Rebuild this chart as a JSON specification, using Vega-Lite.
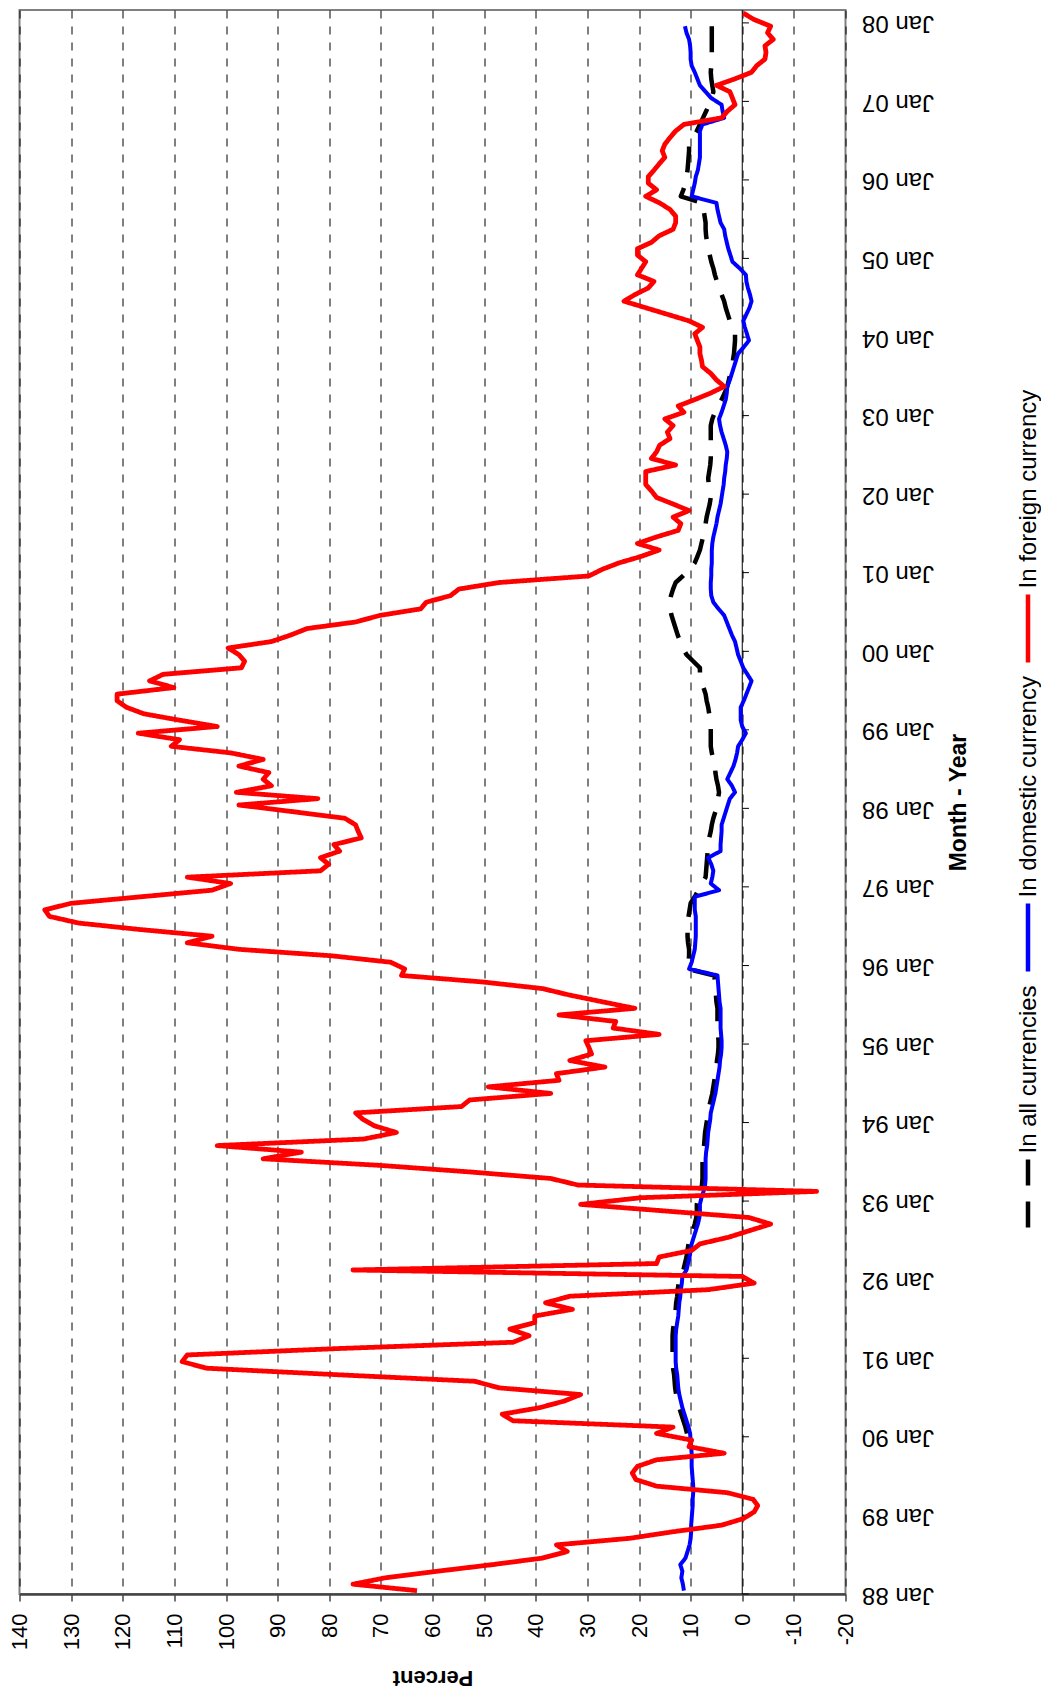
{
"$schema": "https://vega.github.io/schema/vega-lite/v6.json",
"autosize": {"type": "none"},
"padding": {"left": 19.5, "top": 10, "right": 195.5, "bottom": 103},
"width": 826,
"height": 1584,
"background": "white",
"config": {"view": {"stroke": "#808080", "strokeWidth": 2}},
"data": {"values": [
{"m":"1988-01","f":63.0,"d":11.3},{"m":"1988-02","f":75.4,"d":11.5},{"m":"1988-03","f":69.1,"d":11.8},{"m":"1988-04","f":59,"d":11.6},{"m":"1988-05","f":48.4,"d":12.0},{"m":"1988-06","f":38.7,"d":11.0},{"m":"1988-07","f":33.9,"d":10.6},{"m":"1988-08","f":36.0,"d":10.2},{"m":"1988-09","f":21.8,"d":10.0},{"m":"1988-10","f":13.4,"d":9.9},{"m":"1988-11","f":4.0,"d":9.9},{"m":"1988-12","f":-0.2,"d":9.8},
{"m":"1989-01","f":-2.3,"d":9.7},{"m":"1989-02","f":-3.0,"d":9.6},{"m":"1989-03","f":-2.1,"d":9.6},{"m":"1989-04","f":2.9,"d":9.5},{"m":"1989-05","f":16.6,"d":9.5},{"m":"1989-06","f":20.6,"d":9.6},{"m":"1989-07","f":21.3,"d":9.7},{"m":"1989-08","f":20.3,"d":9.8},{"m":"1989-09","f":16.6,"d":9.8},{"m":"1989-10","f":3.5,"d":9.8},{"m":"1989-11","f":10.3,"d":9.9},{"m":"1989-12","f":9.8,"d":10.0},
{"m":"1990-01","f":16.6,"d":10.1,"a":10.7},{"m":"1990-02","f":13.4,"d":10.4,"a":11.0},{"m":"1990-03","f":44.4,"d":10.8,"a":11.4},{"m":"1990-04","f":46.5,"d":11.2,"a":11.8},{"m":"1990-05","f":39.2,"d":11.6,"a":12.2},{"m":"1990-06","f":34.5,"d":11.9,"a":12.5},{"m":"1990-07","f":31.3,"d":12.2,"a":12.8},{"m":"1990-08","f":47.1,"d":12.4,"a":13.0},{"m":"1990-09","f":51.8,"d":12.5,"a":13.1},{"m":"1990-10","f":78.4,"d":12.6,"a":13.2},{"m":"1990-11","f":103.8,"d":12.8,"a":13.4},{"m":"1990-12","f":108.5,"d":12.9,"a":13.5},
{"m":"1991-01","f":107.5,"d":12.9,"a":13.5},{"m":"1991-02","f":78.6,"d":12.9,"a":13.5},{"m":"1991-03","f":44.4,"d":12.9,"a":13.5},{"m":"1991-04","f":41.3,"d":12.9,"a":13.5},{"m":"1991-05","f":45.0,"d":12.8,"a":13.4},{"m":"1991-06","f":40.2,"d":12.6,"a":13.2},{"m":"1991-07","f":40.2,"d":12.4,"a":13.0},{"m":"1991-08","f":32.9,"d":12.3,"a":12.9},{"m":"1991-09","f":38.1,"d":12.2,"a":12.8},{"m":"1991-10","f":33.4,"d":12.0,"a":12.6},{"m":"1991-11","f":6.6,"d":11.9,"a":12.5},{"m":"1991-12","f":-2.3,"d":11.7,"a":12.3},
{"m":"1992-01","f":0,"d":11.6,"a":12.2},{"m":"1992-02","f":75.4,"d":10.8,"a":11.4},{"m":"1992-03","f":16.6,"d":10.5,"a":11.1},{"m":"1992-04","f":16.1,"d":10.2,"a":10.8},{"m":"1992-05","f":9.8,"d":10.0,"a":10.6},{"m":"1992-06","f":8.2,"d":9.8,"a":10.4},{"m":"1992-07","f":2.7,"d":9.4,"a":10.0},{"m":"1992-08","f":-1.4,"d":9.0,"a":9.6},{"m":"1992-09","f":-5.5,"d":8.6,"a":9.2},{"m":"1992-10","f":-1.3,"d":8.3,"a":8.9},{"m":"1992-11","f":15.0,"d":8.2,"a":8.8},{"m":"1992-12","f":31.3,"d":8.2,"a":8.8},
{"m":"1993-01","f":19.7,"d":7.9,"a":8.5},{"m":"1993-02","f":-14.4,"d":7.5,"a":8.1},{"m":"1993-03","f":31.8,"d":7.2,"a":7.8},{"m":"1993-04","f":37.1,"d":7.1,"a":7.7},{"m":"1993-05","f":52.8,"d":7.1,"a":7.7},{"m":"1993-06","f":70.2,"d":7.1,"a":7.7},{"m":"1993-07","f":92.8,"d":7.1,"a":7.7},{"m":"1993-08","f":85.4,"d":7.0,"a":7.6},{"m":"1993-09","f":101.7,"d":6.8,"a":7.4},{"m":"1993-10","f":73.3,"d":6.7,"a":7.3},{"m":"1993-11","f":67.0,"d":6.6,"a":7.2},{"m":"1993-12","f":71.2,"d":6.4,"a":7.0},
{"m":"1994-01","f":73.5,"d":6.2,"a":6.8},{"m":"1994-02","f":74.9,"d":6.1,"a":6.7},{"m":"1994-03","f":54.4,"d":5.8,"a":6.4},{"m":"1994-04","f":52.8,"d":5.5,"a":6.1},{"m":"1994-05","f":37.1,"d":5.2,"a":5.8},{"m":"1994-06","f":49.2,"d":5.0,"a":5.6},{"m":"1994-07","f":35.5,"d":4.8,"a":5.4},{"m":"1994-08","f":36.0,"d":4.6,"a":5.2},{"m":"1994-09","f":26.6,"d":4.4,"a":5.0},{"m":"1994-10","f":33.4,"d":4.3,"a":4.9},{"m":"1994-11","f":29.2,"d":4.1,"a":4.7},{"m":"1994-12","f":29.7,"d":4.0,"a":4.6},
{"m":"1995-01","f":30.3,"d":4.0,"a":4.6},{"m":"1995-02","f":16.1,"d":4.1,"a":4.7},{"m":"1995-03","f":25.0,"d":4.2,"a":4.8},{"m":"1995-04","f":24.5,"d":4.2,"a":4.8},{"m":"1995-05","f":35.5,"d":4.2,"a":4.8},{"m":"1995-06","f":20.8,"d":4.2,"a":4.8},{"m":"1995-07","f":27.1,"d":4.4,"a":5.0},{"m":"1995-08","f":33.4,"d":4.5,"a":5.1},{"m":"1995-09","f":38.7,"d":4.6,"a":5.2},{"m":"1995-10","f":50.2,"d":4.7,"a":5.3},{"m":"1995-11","f":66.0,"d":4.8,"a":5.4},{"m":"1995-12","f":65.4,"d":10.3,"a":10.6},
{"m":"1996-01","f":68.1,"d":9.8,"a":10.4},{"m":"1996-02","f":79.6,"d":9.5,"a":10.3},{"m":"1996-03","f":97.5,"d":9.2,"a":10.3},{"m":"1996-04","f":107.5,"d":9.1,"a":10.5},{"m":"1996-05","f":102.7,"d":9.0,"a":10.6},{"m":"1996-06","f":116.4,"d":9.0,"a":10.6},{"m":"1996-07","f":128.5,"d":9.0,"a":10.6},{"m":"1996-08","f":134.2,"d":9.0,"a":10.4},{"m":"1996-09","f":135.1,"d":9.2,"a":10.2},{"m":"1996-10","f":130.0,"d":9.2,"a":10.0},{"m":"1996-11","f":116.4,"d":9.2,"a":9.2},{"m":"1996-12","f":102.7,"d":4.5,"a":8.5},
{"m":"1997-01","f":99.1,"d":6.1,"a":7.8},{"m":"1997-02","f":107.5,"d":5.8,"a":7.1},{"m":"1997-03","f":81.7,"d":5.6,"a":7.0},{"m":"1997-04","f":80.1,"d":6.0,"a":6.9},{"m":"1997-05","f":81.7,"d":6.6,"a":6.8},{"m":"1997-06","f":78.0,"d":4.2,"a":6.7},{"m":"1997-07","f":79.1,"d":4.2,"a":6.6},{"m":"1997-08","f":73.8,"d":4.1,"a":6.4},{"m":"1997-09","f":74.4,"d":4.0,"a":6.1},{"m":"1997-10","f":74.9,"d":4.0,"a":5.9},{"m":"1997-11","f":77.0,"d":3.6,"a":5.6},{"m":"1997-12","f":87.0,"d":3.2,"a":5.2},
{"m":"1998-01","f":97.5,"d":2.8,"a":4.9},{"m":"1998-02","f":82.2,"d":2.4,"a":4.7},{"m":"1998-03","f":98.0,"d":1.4,"a":4.5},{"m":"1998-04","f":91.2,"d":2.0,"a":4.7},{"m":"1998-05","f":92.8,"d":2.9,"a":5.0},{"m":"1998-06","f":91.7,"d":2.3,"a":5.2},{"m":"1998-07","f":97.5,"d":1.7,"a":5.3},{"m":"1998-08","f":92.8,"d":1.3,"a":5.6},{"m":"1998-09","f":99.1,"d":1.0,"a":5.9},{"m":"1998-10","f":110.6,"d":0.8,"a":6.1},{"m":"1998-11","f":109.0,"d":0.0,"a":6.1},{"m":"1998-12","f":117.0,"d":-0.7,"a":6.1},
{"m":"1999-01","f":101.7,"d":0.0,"a":6.1},{"m":"1999-02","f":109.0,"d":0.3,"a":6.1},{"m":"1999-03","f":115.9,"d":0.3,"a":6.4},{"m":"1999-04","f":119.3,"d":0.3,"a":6.6},{"m":"1999-05","f":121.1,"d":-0.3,"a":6.9},{"m":"1999-06","f":121.1,"d":-0.8,"a":7.1},{"m":"1999-07","f":110.1,"d":-1.3,"a":7.5},{"m":"1999-08","f":114.8,"d":-1.8,"a":7.9},{"m":"1999-09","f":112.2,"d":-1.0,"a":8.2},{"m":"1999-10","f":97.0,"d":-0.2,"a":8.2},{"m":"1999-11","f":96.4,"d":0.3,"a":9.5},{"m":"1999-12","f":97.5,"d":0.8,"a":10.8},
{"m":"2000-01","f":99.6,"d":1.1,"a":11.5},{"m":"2000-02","f":91.2,"d":1.4,"a":12.0},{"m":"2000-03","f":87.5,"d":2.0,"a":12.5},{"m":"2000-04","f":84.3,"d":2.5,"a":12.9},{"m":"2000-05","f":74.9,"d":3.0,"a":13.3},{"m":"2000-06","f":70.2,"d":3.5,"a":13.7},{"m":"2000-07","f":62.3,"d":4.6,"a":14.0},{"m":"2000-08","f":61.2,"d":5.6,"a":14.0},{"m":"2000-09","f":56.5,"d":6.0,"a":13.8},{"m":"2000-10","f":54.9,"d":6.1,"a":13.4},{"m":"2000-11","f":47.1,"d":6.1,"a":12.9},{"m":"2000-12","f":29.7,"d":6.0,"a":11.5},
{"m":"2001-01","f":27.1,"d":6.0,"a":10.2},{"m":"2001-02","f":23.9,"d":5.9,"a":9.2},{"m":"2001-03","f":19.7,"d":5.9,"a":8.7},{"m":"2001-04","f":16.1,"d":5.9,"a":8.2},{"m":"2001-05","f":20.3,"d":5.8,"a":7.9},{"m":"2001-06","f":16.6,"d":5.6,"a":7.6},{"m":"2001-07","f":12.4,"d":5.3,"a":7.4},{"m":"2001-08","f":11.9,"d":5.0,"a":7.1},{"m":"2001-09","f":13.4,"d":4.8,"a":6.9},{"m":"2001-10","f":10.3,"d":4.5,"a":6.6},{"m":"2001-11","f":13.4,"d":4.2,"a":6.3},{"m":"2001-12","f":16.6,"d":4.0,"a":6.1},
{"m":"2002-01","f":17.6,"d":3.8,"a":6.3},{"m":"2002-02","f":18.7,"d":3.6,"a":6.5},{"m":"2002-03","f":18.7,"d":3.5,"a":6.6},{"m":"2002-04","f":18.7,"d":3.3,"a":6.4},{"m":"2002-05","f":12.9,"d":3.2,"a":6.2},{"m":"2002-06","f":17.6,"d":3.0,"a":6.1},{"m":"2002-07","f":16.6,"d":2.9,"a":6.1},{"m":"2002-08","f":16.0,"d":3.2,"a":6.1},{"m":"2002-09","f":14.0,"d":3.6,"a":6.1},{"m":"2002-10","f":14.5,"d":4.0,"a":6.1},{"m":"2002-11","f":13.4,"d":4.3,"a":6.1},{"m":"2002-12","f":15.0,"d":4.5,"a":5.8},
{"m":"2003-01","f":11.3,"d":4.0,"a":5.3},{"m":"2003-02","f":12.4,"d":3.6,"a":4.7},{"m":"2003-03","f":9.2,"d":3.2,"a":4.0},{"m":"2003-04","f":6.1,"d":3.0,"a":3.4},{"m":"2003-05","f":3.5,"d":2.9,"a":2.9},{"m":"2003-06","f":5.0,"d":2.4,"a":2.6},{"m":"2003-07","f":6.1,"d":2.0,"a":2.3},{"m":"2003-08","f":7.7,"d":1.6,"a":2.0},{"m":"2003-09","f":7.9,"d":1.2,"a":1.8},{"m":"2003-10","f":8.2,"d":0.8,"a":1.6},{"m":"2003-11","f":8.2,"d":-0.3,"a":1.5},{"m":"2003-12","f":8.7,"d":-1.3,"a":1.4},
{"m":"2004-01","f":9.2,"d":-0.9,"a":1.4},{"m":"2004-02","f":7.7,"d":-0.5,"a":1.9},{"m":"2004-03","f":10.3,"d":-0.2,"a":2.4},{"m":"2004-04","f":14.5,"d":-0.8,"a":2.8},{"m":"2004-05","f":18.7,"d":-1.4,"a":3.2},{"m":"2004-06","f":22.9,"d":-1.8,"a":3.5},{"m":"2004-07","f":20.8,"d":-1.5,"a":4.0},{"m":"2004-08","f":18.2,"d":-1.1,"a":4.5},{"m":"2004-09","f":17.1,"d":-0.8,"a":4.9},{"m":"2004-10","f":20.3,"d":-0.7,"a":5.3},{"m":"2004-11","f":19.5,"d":0.5,"a":5.6},{"m":"2004-12","f":18.7,"d":1.9,"a":6.0},
{"m":"2005-01","f":20.3,"d":2.3,"a":6.3},{"m":"2005-02","f":20.3,"d":2.7,"a":6.6},{"m":"2005-03","f":17.6,"d":3.0,"a":6.8},{"m":"2005-04","f":16.1,"d":3.3,"a":7.0},{"m":"2005-05","f":13.4,"d":3.5,"a":7.1},{"m":"2005-06","f":12.9,"d":4.2,"a":7.1},{"m":"2005-07","f":12.9,"d":4.5,"a":7.3},{"m":"2005-08","f":14.0,"d":4.8,"a":7.5},{"m":"2005-09","f":16.0,"d":5.0,"a":7.7},{"m":"2005-10","f":18.7,"d":9.8,"a":11.9},{"m":"2005-11","f":16.6,"d":9.5,"a":11.4},{"m":"2005-12","f":18.2,"d":9.2,"a":11.0},
{"m":"2006-01","f":18.2,"d":9.0,"a":10.8},{"m":"2006-02","f":17.1,"d":8.6,"a":10.6},{"m":"2006-03","f":16.1,"d":8.4,"a":10.5},{"m":"2006-04","f":15.0,"d":8.2,"a":10.4},{"m":"2006-05","f":15.5,"d":8.2,"a":10.3},{"m":"2006-06","f":15.0,"d":8.2,"a":10.3},{"m":"2006-07","f":14.0,"d":8.2,"a":9.5},{"m":"2006-08","f":12.9,"d":8.2,"a":8.8},{"m":"2006-09","f":11.3,"d":7.7,"a":8.2},{"m":"2006-10","f":4.0,"d":3.5,"a":7.6},{"m":"2006-11","f":2.9,"d":3.8,"a":7.0},{"m":"2006-12","f":1.4,"d":4.0,"a":6.4},
{"m":"2007-01","f":1.9,"d":6.0,"a":5.9},{"m":"2007-02","f":2.4,"d":7.1,"a":5.6},{"m":"2007-03","f":5.0,"d":8.2,"a":5.8},{"m":"2007-04","f":1.4,"d":8.7,"a":6.0},{"m":"2007-05","f":-1.8,"d":9.2,"a":6.1},{"m":"2007-06","f":-2.8,"d":9.8,"a":6.0},{"m":"2007-07","f":-4.4,"d":10.0,"a":5.9},{"m":"2007-08","f":-4.6,"d":10.0,"a":5.9},{"m":"2007-09","f":-4.4,"d":10.1,"a":5.9},{"m":"2007-10","f":-6.0,"d":10.3,"a":5.9},{"m":"2007-11","f":-4.9,"d":10.8,"a":5.9},{"m":"2007-12","f":-5.5,"d":11.1,"a":5.9},
{"m":"2008-01","f":-2.3},{"m":"2008-02","f":-0.2}
]},
"transform": [
  {"fold": ["a", "d", "f"], "as": ["s", "v"]},
  {"filter": "isValid(datum.v)"}
],
"layer": [
  {
    "data": {"values": [{}]},
    "mark": {"type": "rule", "color": "#000000", "strokeWidth": 1},
    "encoding": {"x": {"datum": 0, "type": "quantitative"}}
  },
  {
    "transform": [{"filter": "datum.s == 'f' && utcmonth(datum.m) == 0"}],
    "mark": {"type": "rule", "color": "#000000", "strokeWidth": 1},
    "encoding": {
      "y": {"field": "m", "timeUnit": "utcyearmonth", "type": "temporal"},
      "x": {"datum": 0, "type": "quantitative"},
      "x2": {"datum": -1.3}
    }
  },
  {
    "transform": [{"filter": "datum.s == 'a'"}],
    "mark": {"type": "line", "strokeWidth": 4.5, "strokeJoin": "round"},
    "encoding": {
      "y": {"field": "m", "timeUnit": "utcyearmonth", "type": "temporal", "bandPosition": 0.5,
        "scale": {"domain": [{"year": 1988, "month": 1, "date": 1, "utc": true}, {"year": 2008, "month": 3, "date": 1, "utc": true}], "nice": false},
        "axis": {"orient": "right", "title": "Month - Year", "format": "%b %y", "tickCount": {"interval": "year", "step": 1},
          "labelAngle": 180, "labelAlign": "right", "labelBaseline": "middle", "labelPadding": 16, "labelFlush": false, "labelOverlap": false,
          "ticks": false, "tickSize": 0, "domain": false, "grid": false,
          "labelFont": "Liberation Sans", "labelFontSize": 24, "labelColor": "#000000",
          "titleAngle": 270, "titleBaseline": "top", "titlePadding": 14, "titleFont": "Liberation Sans", "titleFontSize": 23, "titleFontWeight": "bold", "titleColor": "#000000"}},
      "x": {"field": "v", "type": "quantitative",
        "scale": {"domain": [-20, 140], "reverse": true, "nice": false, "zero": false},
        "axis": {"orient": "bottom", "title": "Percent", "values": [-20,-10,0,10,20,30,40,50,60,70,80,90,100,110,120,130,140],
          "labelExpr": "'' + datum.value", "labelAngle": 270, "labelAlign": "right", "labelBaseline": "middle", "labelPadding": 12, "labelFlush": false, "labelOverlap": false,
          "labelFont": "Liberation Sans", "labelFontSize": 22, "labelColor": "#000000",
          "tickSize": 7, "tickColor": "#444444", "tickWidth": 1.5, "domainColor": "#444444", "domainWidth": 2.5,
          "grid": true, "gridDash": [8, 8], "gridColor": "#000000", "gridWidth": 1,
          "titleAngle": 180, "titleBaseline": "bottom", "titlePadding": 16, "titleFont": "Liberation Sans", "titleFontSize": 22, "titleFontWeight": "bold", "titleColor": "#000000"}},
      "color": {"field": "s", "type": "nominal",
        "scale": {"domain": ["f", "d", "a"], "range": ["#FF0000", "#0000FF", "#000000"]},
        "legend": {"title": null, "orient": "none", "legendX": 972, "legendY": 582, "direction": "vertical",
          "symbolType": "M0,-1L0,1", "symbolSize": 4624, "symbolStrokeWidth": 4.5,
          "labelFont": "Liberation Sans", "labelFontSize": 24, "labelColor": "#000000", "labelLimit": 600,
          "labelOffset": -36, "labelAlign": "left", "labelBaseline": "middle", "rowPadding": 4, "padding": 0,
          "labelExpr": "datum.label == 'f' ? 'In foreign currency' : datum.label == 'd' ? 'In domestic currency' : 'In all currencies'",
          "encoding": {"labels": {"angle": {"value": -90}, "dx": {"value": 40}}}}},
      "strokeDash": {"field": "s", "type": "nominal",
        "scale": {"domain": ["f", "d", "a"], "range": [[1, 0], [1, 0], [26, 16]]},
        "legend": {"title": null, "orient": "none", "legendX": 972, "legendY": 582, "direction": "vertical",
          "symbolType": "M0,-1L0,1", "symbolSize": 4624, "symbolStrokeWidth": 4.5,
          "labelFont": "Liberation Sans", "labelFontSize": 24, "labelColor": "#000000", "labelLimit": 600,
          "labelOffset": -36, "labelAlign": "left", "labelBaseline": "middle", "rowPadding": 4, "padding": 0,
          "labelExpr": "datum.label == 'f' ? 'In foreign currency' : datum.label == 'd' ? 'In domestic currency' : 'In all currencies'",
          "encoding": {"labels": {"angle": {"value": -90}, "dx": {"value": 40}}}}}
    }
  },
  {
    "transform": [{"filter": "datum.s == 'd'"}],
    "mark": {"type": "line", "strokeWidth": 4, "strokeJoin": "round"},
    "encoding": {
      "y": {"field": "m", "timeUnit": "utcyearmonth", "type": "temporal", "bandPosition": 0.5},
      "x": {"field": "v", "type": "quantitative"},
      "color": {"field": "s", "type": "nominal"},
      "strokeDash": {"field": "s", "type": "nominal"}
    }
  },
  {
    "transform": [{"filter": "datum.s == 'f'"}],
    "mark": {"type": "line", "strokeWidth": 4.8, "strokeJoin": "round"},
    "encoding": {
      "y": {"field": "m", "timeUnit": "utcyearmonth", "type": "temporal", "bandPosition": 0.5},
      "x": {"field": "v", "type": "quantitative"},
      "color": {"field": "s", "type": "nominal"},
      "strokeDash": {"field": "s", "type": "nominal"}
    }
  }
]
}
